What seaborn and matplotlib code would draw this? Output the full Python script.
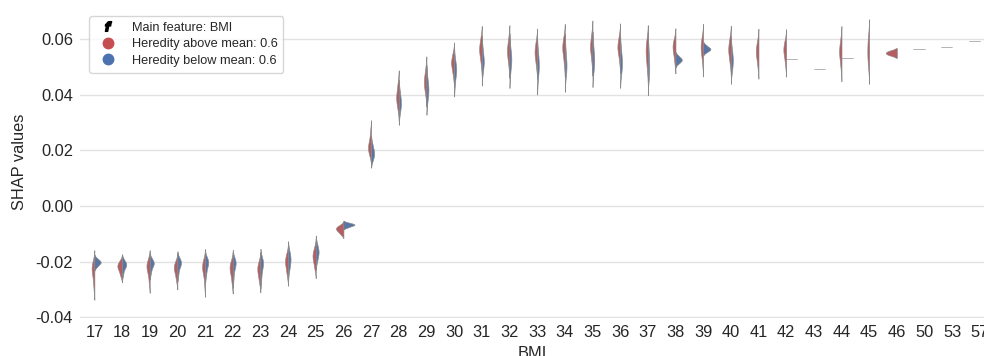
import numpy as np
import pandas as pd
import matplotlib
matplotlib.use("Agg")
import matplotlib.pyplot as plt
import seaborn as sns
from matplotlib.lines import Line2D

# BMI categories shown on the x axis
bmi_levels = [17, 18, 19, 20, 21, 22, 23, 24, 25, 26, 27, 28, 29, 30, 31, 32,
              33, 34, 35, 36, 37, 38, 39, 40, 41, 42, 43, 44, 45, 46, 50, 53, 57]

# SHAP values of BMI, split by Heredity above / below its mean (0.6)
shap_above = [
    [-0.0200, -0.0212, -0.0220, -0.0226, -0.0234, -0.0248, -0.0270, -0.0295],  # 17
    [-0.0198, -0.0207, -0.0213, -0.0218, -0.0224, -0.0235, -0.0250],  # 18
    [-0.0195, -0.0205, -0.0213, -0.0220, -0.0228, -0.0245, -0.0275],  # 19
    [-0.0200, -0.0210, -0.0218, -0.0225, -0.0233, -0.0248, -0.0268],  # 20
    [-0.0195, -0.0207, -0.0215, -0.0222, -0.0232, -0.0250, -0.0285],  # 21
    [-0.0200, -0.0210, -0.0218, -0.0226, -0.0236, -0.0252, -0.0278],  # 22
    [-0.0200, -0.0212, -0.0222, -0.0230, -0.0240, -0.0255, -0.0275],  # 23
    [-0.0170, -0.0185, -0.0195, -0.0203, -0.0212, -0.0228, -0.0250],  # 24
    [-0.0150, -0.0165, -0.0175, -0.0182, -0.0190, -0.0205, -0.0225],  # 25
    [-0.0100, -0.0090, -0.0085, -0.0080, -0.0076, -0.0070],  # 26
    [0.0270, 0.0240, 0.0222, 0.0214, 0.0207, 0.0198, 0.0185],  # 27
    [0.0445, 0.0420, 0.0402, 0.0392, 0.0383, 0.0370, 0.0350],  # 28
    [0.0495, 0.0472, 0.0455, 0.0446, 0.0437, 0.0422, 0.0400],  # 29
    [0.0550, 0.0532, 0.0520, 0.0513, 0.0505, 0.0490, 0.0465],  # 30
    [0.0605, 0.0585, 0.0570, 0.0562, 0.0553, 0.0538, 0.0510],  # 31
    [0.0605, 0.0582, 0.0566, 0.0556, 0.0547, 0.0530, 0.0505],  # 32
    [0.0595, 0.0575, 0.0560, 0.0551, 0.0542, 0.0525, 0.0500],  # 33
    [0.0610, 0.0590, 0.0575, 0.0567, 0.0558, 0.0540, 0.0510],  # 34
    [0.0620, 0.0598, 0.0580, 0.0571, 0.0562, 0.0545, 0.0515],  # 35
    [0.0615, 0.0592, 0.0578, 0.0571, 0.0563, 0.0548, 0.0520],  # 36
    [0.0600, 0.0580, 0.0565, 0.0553, 0.0540, 0.0520, 0.0490],  # 37
    [0.0600, 0.0585, 0.0575, 0.0568, 0.0558, 0.0540, 0.0515],  # 38
    [0.0610, 0.0590, 0.0577, 0.0568, 0.0558, 0.0540, 0.0510],  # 39
    [0.0605, 0.0585, 0.0570, 0.0561, 0.0552, 0.0535, 0.0510],  # 40
    [0.0595, 0.0575, 0.0562, 0.0553, 0.0544, 0.0527, 0.0500],  # 41
    [0.0595, 0.0578, 0.0566, 0.0559, 0.0550, 0.0532, 0.0505],  # 42
    [],  # 43
    [0.0600, 0.0578, 0.0562, 0.0553, 0.0543, 0.0525, 0.0495],  # 44
    [0.0615, 0.0592, 0.0572, 0.0556, 0.0540, 0.0520, 0.0495],  # 45
    [0.0545, 0.0555],  # 46
    [0.0565],  # 50
    [0.0572],  # 53
    [0.0593],  # 57
]
shap_below = [
    [-0.0188, -0.0195, -0.0199, -0.0202, -0.0205, -0.0210, -0.0218],  # 17
    [-0.0195, -0.0203, -0.0208, -0.0212, -0.0216, -0.0225, -0.0245],  # 18
    [-0.0190, -0.0198, -0.0203, -0.0207, -0.0212, -0.0222, -0.0240],  # 19
    [-0.0188, -0.0196, -0.0201, -0.0206, -0.0212, -0.0222, -0.0245],  # 20
    [-0.0188, -0.0195, -0.0200, -0.0206, -0.0214, -0.0228, -0.0250],  # 21
    [-0.0190, -0.0197, -0.0202, -0.0208, -0.0216, -0.0232, -0.0260],  # 22
    [-0.0188, -0.0196, -0.0202, -0.0210, -0.0220, -0.0236, -0.0262],  # 23
    [-0.0160, -0.0175, -0.0186, -0.0194, -0.0202, -0.0215, -0.0235],  # 24
    [-0.0135, -0.0150, -0.0160, -0.0166, -0.0172, -0.0185, -0.0200],  # 25
    [-0.0076, -0.0071, -0.0068, -0.0066, -0.0064, -0.0060],  # 26
    [0.0225, 0.0208, 0.0198, 0.0191, 0.0185, 0.0176, 0.0165],  # 27
    [0.0415, 0.0395, 0.0380, 0.0371, 0.0363, 0.0350, 0.0330],  # 28
    [0.0465, 0.0442, 0.0427, 0.0418, 0.0409, 0.0394, 0.0370],  # 29
    [0.0530, 0.0508, 0.0495, 0.0488, 0.0480, 0.0465, 0.0435],  # 30
    [0.0570, 0.0545, 0.0530, 0.0520, 0.0512, 0.0498, 0.0475],  # 31
    [0.0575, 0.0548, 0.0535, 0.0526, 0.0517, 0.0500, 0.0470],  # 32
    [0.0560, 0.0535, 0.0518, 0.0505, 0.0495, 0.0478, 0.0450],  # 33
    [0.0570, 0.0540, 0.0520, 0.0508, 0.0498, 0.0482, 0.0460],  # 34
    [0.0580, 0.0555, 0.0535, 0.0525, 0.0515, 0.0498, 0.0475],  # 35
    [0.0570, 0.0545, 0.0527, 0.0516, 0.0506, 0.0490, 0.0470],  # 36
    [0.0575, 0.0545, 0.0522, 0.0505, 0.0490, 0.0472, 0.0455],  # 37
    [0.0540, 0.0532, 0.0527, 0.0524, 0.0520, 0.0512],  # 38
    [0.0578, 0.0570, 0.0566, 0.0563, 0.0560, 0.0553],  # 39
    [0.0570, 0.0548, 0.0533, 0.0524, 0.0515, 0.0498, 0.0480],  # 40
    [],  # 41
    [0.0528],  # 42
    [0.0493],  # 43
    [0.0532],  # 44
    [],  # 45
    [],  # 46
    [],  # 50
    [],  # 53
    [],  # 57
]

label_above = "Heredity above mean: 0.6"
label_below = "Heredity below mean: 0.6"
color_above = "#c44e52"
color_below = "#4c72b0"

rows = []
for bmi, vals in zip(bmi_levels, shap_above):
    for v in vals:
        rows.append({"BMI": str(bmi), "SHAP": v, "group": label_above})
for bmi, vals in zip(bmi_levels, shap_below):
    for v in vals:
        rows.append({"BMI": str(bmi), "SHAP": v, "group": label_below})
df = pd.DataFrame(rows)

sns.set_theme(style="whitegrid", rc={"grid.color": "#e2e2e2"})
plt.rcParams["font.family"] = ["Liberation Sans", "DejaVu Sans"]

fig = plt.figure(figsize=(9.84, 3.56), dpi=100)
ax = fig.add_axes([0.0813, 0.1067, 0.9187, 0.879])

sns.violinplot(data=df, x="BMI", y="SHAP", hue="group",
               order=[str(b) for b in bmi_levels],
               hue_order=[label_above, label_below],
               palette={label_above: color_above, label_below: color_below},
               split=True, inner=None, linewidth=0.45, linecolor="#8a8a8a",
               legend=False, ax=ax)

ax.set_xlim(-0.52, 32.15)
ax.set_ylim(-0.0402, 0.0722)
ax.set_yticks([-0.04, -0.02, 0.0, 0.02, 0.04, 0.06])
ax.yaxis.set_major_formatter(matplotlib.ticker.FormatStrFormatter("%.2f"))
ax.grid(axis="x", visible=False)
ax.tick_params(labelsize=11.8, length=0, pad=5, labelcolor="#262626")
ax.set_xlabel("BMI", fontsize=11.8, labelpad=4)
ax.set_ylabel("SHAP values", fontsize=11.8, labelpad=6)
sns.despine(ax=ax, left=True, bottom=True)

handles = [
    Line2D([], [], linestyle="none", marker="$\\boldsymbol{f}$", color="black", markersize=7),
    Line2D([], [], linestyle="none", marker="o", color=color_above, markersize=7.5),
    Line2D([], [], linestyle="none", marker="o", color=color_below, markersize=7.5),
]
ax.legend(handles, ["Main feature: BMI", label_above, label_below],
          loc="upper left", fontsize=9.2, frameon=True, borderpad=0.45,
          labelspacing=0.35, handletextpad=0.9, bbox_to_anchor=(0.003, 0.985))

fig.savefig("out.png", dpi=100)
